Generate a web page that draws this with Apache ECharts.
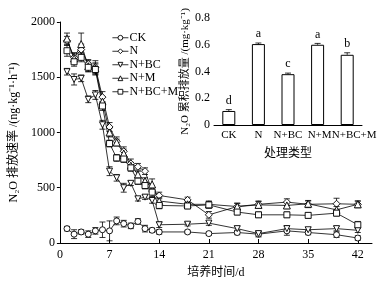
<!DOCTYPE html>
<html><head><meta charset="utf-8">
<script src="https://cdn.jsdelivr.net/npm/echarts@6/dist/echarts.min.js"></script>
<style>html,body{margin:0;padding:0;background:#fff}#c{width:392px;height:284px}</style>
</head><body><div id="c"></div>
<script>
const days = [1,2,3,4,5,6,7,8,9,10,11,12,13,14,18,21,25,28,32,35,39,42];
const ck = [130,80,100,80,110,120,110,200,175,155,195,130,115,100,100,85,95,80,110,95,75,45];
const ckErr = [20,40,20,30,30,70,90,35,30,25,25,30,20,20,15,15,20,25,40,20,25,20];
const nVals = [1830,1680,1750,1620,1590,1320,1050,920,830,720,690,650,470,430,390,255,330,350,370,350,355,350];
const nErr = [40,40,50,40,60,50,40,40,40,40,30,30,30,30,25,30,30,30,30,30,50,30];
const nbc = [1550,1480,1490,1300,1340,1070,650,590,500,540,400,415,385,165,170,180,130,85,130,120,130,115];
const nbcErr = [30,50,30,30,40,40,40,30,40,20,20,20,25,25,15,20,20,20,25,20,20,20];
const nm = [1850,1670,1800,1600,1580,1280,1000,910,810,700,620,560,530,380,350,350,330,345,340,355,300,350];
const nmErr = [50,50,100,50,50,40,40,30,40,30,30,30,50,30,30,30,30,30,30,30,30,30];
const nbcm = [1740,1640,1680,1590,1570,1240,900,770,760,680,560,520,460,340,335,345,280,255,255,250,270,165];
const nbcmErr = [50,40,40,40,50,40,30,30,30,30,30,30,40,30,25,30,25,25,25,25,25,30];

const treatments = ['CK','N','N+BC','N+M','N+BC+M'];
const cumVals = [0.105,0.605,0.38,0.60,0.525];
const cumErr = [0.01,0.008,0.008,0.01,0.015];
const letters = ['d','a','c','a','b'];

const FONT = '"Liberation Serif","Noto Sans CJK SC",serif';
const names = ['CK','N','N+BC','N+M','N+BC+M'];
const vals = [ck,nVals,nbc,nm,nbcm];
const errs = [ckErr,nErr,nbcErr,nmErr,nbcmErr];
const symbols = ['circle','diamond','path://M0,0 L10,0 L5,9 Z','triangle','rect'];
const sizes = [6,7,6,7,6];

function errRender(params, api){
  const x = api.value(0), lo = api.value(1), hi = api.value(2);
  const a = api.coord([x, lo]), b = api.coord([x, hi]);
  const w = 3, st = {stroke:'#000', lineWidth:0.8};
  return {type:'group', children:[
    {type:'line', shape:{x1:a[0],y1:a[1],x2:b[0],y2:b[1]}, style:st},
    {type:'line', shape:{x1:b[0]-w,y1:b[1],x2:b[0]+w,y2:b[1]}, style:st},
    {type:'line', shape:{x1:a[0]-w,y1:a[1],x2:a[0]+w,y2:a[1]}, style:st}
  ]};
}
function barErrRender(params, api){
  const x = api.value(0), v = api.value(1), e = api.value(2);
  const a = api.coord([x, v]), b = api.coord([x, v+e]);
  const w = 3, st = {stroke:'#000', lineWidth:0.8};
  return {type:'group', children:[
    {type:'line', shape:{x1:a[0],y1:a[1],x2:b[0],y2:b[1]}, style:st},
    {type:'line', shape:{x1:b[0]-w,y1:b[1],x2:b[0]+w,y2:b[1]}, style:st},
    {type:'text', style:{text:letters[params.dataIndex], x:b[0], y:b[1]-3, align:'center', verticalAlign:'bottom', font:'12px '+FONT, fill:'#000'}}
  ]};
}

const series = [];
names.forEach((nm_,i)=>{
  series.push({
    name:'err_'+nm_, type:'custom', xAxisIndex:0, yAxisIndex:0, renderItem:errRender, silent:true,
    data: days.map((d,j)=>[d, vals[i][j]-errs[i][j], vals[i][j]+errs[i][j]]), z:2
  });
});
names.forEach((nm_,i)=>{
  series.push({
    name:nm_, type:'line', xAxisIndex:0, yAxisIndex:0,
    data: days.map((d,j)=>[d, vals[i][j]]),
    symbol: symbols[i], symbolSize: sizes[i], showAllSymbol:true,
    lineStyle:{color:'#000', width:0.8},
    itemStyle:{color:'#fff', borderColor:'#000', borderWidth:0.9},
    z:3
  });
});
series.push({
  name:'cum', type:'bar', xAxisIndex:1, yAxisIndex:1, data:cumVals, barWidth:13,
  itemStyle:{color:'#fff', borderColor:'#000', borderWidth:1}, z:5
});
series.push({
  name:'cumErr', type:'custom', xAxisIndex:1, yAxisIndex:1, renderItem:barErrRender,
  data: cumVals.map((v,i)=>[i, v, cumErr[i]]), z:6
});

const axisCommon = {
  axisLine:{lineStyle:{color:'#000', width:1}},
  axisTick:{lineStyle:{color:'#000'}, length:3},
  axisLabel:{color:'#000', fontFamily:FONT, fontSize:12},
  splitLine:{show:false},
  nameTextStyle:{color:'#000', fontFamily:FONT, fontSize:12}
};

const chart = echarts.init(document.getElementById('c'), null, {renderer:'canvas'});
chart.setOption({
  animation:false,
  backgroundColor:'#fff',
  textStyle:{fontFamily:FONT},
  legend:{
    data:names.map((n,i)=>({name:n, itemStyle:{color:'#fff', borderColor:'#000', borderWidth:0.9}})),
    orient:'vertical', left:107, top:26, itemGap:0, itemWidth:16, itemHeight:6,
    itemStyle:{color:'#fff', borderColor:'#000', borderWidth:0.9},
    lineStyle:{color:'#000', width:0.8},
    textStyle:{color:'#000', fontFamily:FONT, fontSize:12, lineHeight:13.5, padding:[0,0,0,-4]}
  },
  grid:[
    {left:57, right:20, top:22, bottom:35, containLabel:false},
    {left:214, right:30, top:18, bottom:159, containLabel:false}
  ],
  xAxis:[
    Object.assign({}, axisCommon, {
      type:'value', gridIndex:0, min:0, max:44, interval:7,
      name:'培养时间/d', nameLocation:'middle', nameGap:24,
      axisTick:{inside:true, length:4, lineStyle:{color:'#000'}},
      axisLabel:Object.assign({}, axisCommon.axisLabel, {margin:6, showMaxLabel:false,
        formatter:v=> (v%7===0 ? String(v) : '')})
    }),
    Object.assign({}, axisCommon, {
      type:'category', gridIndex:1, data:treatments,
      name:'处理类型', nameLocation:'middle', nameGap:23,
      axisTick:{show:false},
      axisLabel:Object.assign({}, axisCommon.axisLabel, {margin:5, fontSize:11, interval:0,
        formatter:(v,i)=> i===4 ? '{r|'+v+'}' : (i===3 ? '{m|'+v+'}' : v),
        rich:{r:{fontFamily:FONT, fontSize:11, color:'#000', padding:[0,0,0,14]},
              m:{fontFamily:FONT, fontSize:11, color:'#000', padding:[0,0,0,4]}}})
    })
  ],
  yAxis:[
    Object.assign({}, axisCommon, {
      type:'value', gridIndex:0, min:0, max:2000, interval:500,
      name:'N₂O 排放速率 /(ng·kg⁻¹·h⁻¹)', nameLocation:'middle', nameGap:34,
      axisTick:{inside:false, length:3, lineStyle:{color:'#000'}},
      axisLabel:Object.assign({}, axisCommon.axisLabel, {margin:5, formatter:v=>String(v)})
    }),
    Object.assign({}, axisCommon, {
      type:'value', gridIndex:1, min:0, max:0.8, interval:0.2,
      name:'N₂O 累积排放量 /(mg·kg⁻¹)', nameLocation:'middle', nameGap:14,
      nameTextStyle:{color:'#000', fontFamily:FONT, fontSize:11},
      axisTick:{inside:false, length:3, lineStyle:{color:'#000'}},
      axisLabel:Object.assign({}, axisCommon.axisLabel, {margin:4, formatter:v=>String(Math.round(v*10)/10)})
    })
  ],
  series:series
});
</script></body></html>
